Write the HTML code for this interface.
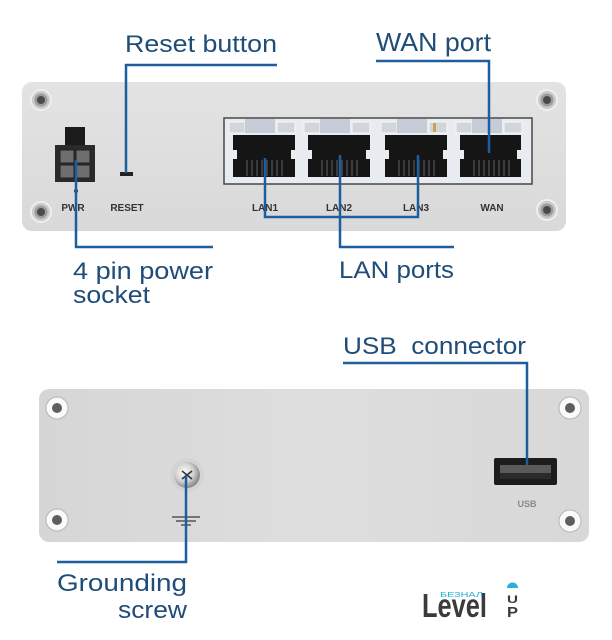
<!DOCTYPE html>
<html>
<head>
<meta charset="utf-8">
<style>
  html,body{margin:0;padding:0;background:#ffffff;}
  svg{display:block;}
  .lbl{font-family:"Liberation Sans",Arial,sans-serif;font-size:24px;fill:#1f4d78;}
  .pl{font-family:"Liberation Sans",Arial,sans-serif;font-size:10px;font-weight:bold;fill:#333;}
  .ln{fill:none;stroke:#1d5e9f;stroke-width:2.5;}
</style>
</head>
<body>
<svg width="612" height="640" viewBox="0 0 612 640" xmlns="http://www.w3.org/2000/svg">
  <defs>
    <linearGradient id="pg" x1="0" y1="0" x2="0" y2="1">
      <stop offset="0" stop-color="#e3e3e3"/>
      <stop offset="1" stop-color="#d9d9d9"/>
    </linearGradient>
    <linearGradient id="pg2" x1="0" y1="0" x2="1" y2="0">
      <stop offset="0" stop-color="#d6d6d6"/>
      <stop offset="0.5" stop-color="#dedede"/>
      <stop offset="1" stop-color="#d8d8d8"/>
    </linearGradient>
    <radialGradient id="gs" cx="0.4" cy="0.4" r="0.6">
      <stop offset="0" stop-color="#ffffff"/>
      <stop offset="0.6" stop-color="#d0d0d0"/>
      <stop offset="1" stop-color="#8a8a8a"/>
    </radialGradient>
  </defs>

  <!-- Top panel -->
  <rect x="22" y="82" width="544" height="149" rx="10" fill="url(#pg)"/>
  <g>
    <circle cx="41" cy="100" r="10" fill="#c9c9c9" stroke="#efefef" stroke-width="2"/>
    <circle cx="41" cy="100" r="6.5" fill="#9c9c9c"/>
    <circle cx="41" cy="100" r="4" fill="#4a4a4a"/>
    <circle cx="41" cy="212" r="10" fill="#c9c9c9" stroke="#efefef" stroke-width="2"/>
    <circle cx="41" cy="212" r="6.5" fill="#9c9c9c"/>
    <circle cx="41" cy="212" r="4" fill="#4a4a4a"/>
    <circle cx="547" cy="100" r="10" fill="#c9c9c9" stroke="#efefef" stroke-width="2"/>
    <circle cx="547" cy="100" r="6.5" fill="#9c9c9c"/>
    <circle cx="547" cy="100" r="4" fill="#4a4a4a"/>
    <circle cx="547" cy="210" r="10" fill="#c9c9c9" stroke="#efefef" stroke-width="2"/>
    <circle cx="547" cy="210" r="6.5" fill="#9c9c9c"/>
    <circle cx="547" cy="210" r="4" fill="#4a4a4a"/>
  </g>

  <!-- power socket -->
  <rect x="65" y="127" width="20" height="19" fill="#1b1b1b"/>
  <rect x="55" y="145" width="40" height="37" fill="#2a2a2a"/>
  <rect x="60" y="150" width="14" height="13" fill="#6e6e6e" stroke="#222" stroke-width="1"/>
  <rect x="76" y="150" width="14" height="13" fill="#6e6e6e" stroke="#222" stroke-width="1"/>
  <rect x="60" y="165" width="14" height="13" fill="#6e6e6e" stroke="#222" stroke-width="1"/>
  <rect x="76" y="165" width="14" height="13" fill="#6e6e6e" stroke="#222" stroke-width="1"/>
  <circle cx="76" cy="191" r="2" fill="#333"/>

  <!-- reset button -->
  <rect x="120" y="172" width="13" height="4" fill="#222"/>

  <!-- port block -->
  <rect x="224" y="118" width="308" height="66" fill="#e8ebef" stroke="#474747" stroke-width="1.5"/>
  <g>
    <g>
      <rect x="229" y="122" width="16" height="11" fill="#d2d5da" stroke="#f6f6f6" stroke-width="1"/>
      <rect x="245" y="119" width="30" height="14" fill="#c7ccd8"/>
      <rect x="277" y="122" width="18" height="11" fill="#d2d5da" stroke="#f6f6f6" stroke-width="1"/>
      <rect x="233" y="135" width="62" height="42" fill="#151515"/>
      <rect x="233" y="150" width="4" height="9" fill="#e8ebef"/>
      <rect x="291" y="150" width="4" height="9" fill="#e8ebef"/>
      <path d="M247 160V176M252 160V176M257 160V176M262 160V176M267 160V176M272 160V176M277 160V176M282 160V176" stroke="#555" stroke-width="1.2"/>
    </g>
    <g>
      <rect x="304" y="122" width="16" height="11" fill="#d2d5da" stroke="#f6f6f6" stroke-width="1"/>
      <rect x="320" y="119" width="30" height="14" fill="#c7ccd8"/>
      <rect x="352" y="122" width="18" height="11" fill="#d2d5da" stroke="#f6f6f6" stroke-width="1"/>
      <rect x="308" y="135" width="62" height="42" fill="#151515"/>
      <rect x="308" y="150" width="4" height="9" fill="#e8ebef"/>
      <rect x="366" y="150" width="4" height="9" fill="#e8ebef"/>
      <path d="M322 160V176M327 160V176M332 160V176M337 160V176M342 160V176M347 160V176M352 160V176M357 160V176" stroke="#555" stroke-width="1.2"/>
    </g>
    <g>
      <rect x="381" y="122" width="16" height="11" fill="#d2d5da" stroke="#f6f6f6" stroke-width="1"/>
      <rect x="397" y="119" width="30" height="14" fill="#c7ccd8"/>
      <rect x="429" y="122" width="18" height="11" fill="#d2d5da" stroke="#f6f6f6" stroke-width="1"/>
      <rect x="433" y="123" width="3" height="9" fill="#c9a54a"/>
      <rect x="385" y="135" width="62" height="42" fill="#151515"/>
      <rect x="385" y="150" width="4" height="9" fill="#e8ebef"/>
      <rect x="443" y="150" width="4" height="9" fill="#e8ebef"/>
      <path d="M399 160V176M404 160V176M409 160V176M414 160V176M419 160V176M424 160V176M429 160V176M434 160V176" stroke="#555" stroke-width="1.2"/>
    </g>
    <g>
      <rect x="456" y="122" width="16" height="11" fill="#d2d5da" stroke="#f6f6f6" stroke-width="1"/>
      <rect x="472" y="119" width="30" height="14" fill="#c7ccd8"/>
      <rect x="504" y="122" width="18" height="11" fill="#d2d5da" stroke="#f6f6f6" stroke-width="1"/>
      <rect x="460" y="135" width="61" height="42" fill="#151515"/>
      <rect x="460" y="150" width="4" height="9" fill="#e8ebef"/>
      <rect x="517" y="150" width="4" height="9" fill="#e8ebef"/>
      <path d="M474 160V176M479 160V176M484 160V176M489 160V176M494 160V176M499 160V176M504 160V176M509 160V176" stroke="#555" stroke-width="1.2"/>
    </g>
  </g>

  <!-- panel labels -->
  <text class="pl" x="73" y="211" text-anchor="middle">PWR</text>
  <text class="pl" x="127" y="211" text-anchor="middle">RESET</text>
  <text class="pl" x="265" y="211" text-anchor="middle">LAN1</text>
  <text class="pl" x="339" y="211" text-anchor="middle">LAN2</text>
  <text class="pl" x="416" y="211" text-anchor="middle">LAN3</text>
  <text class="pl" x="492" y="211" text-anchor="middle">WAN</text>

  <!-- Bottom panel -->
  <rect x="39" y="389" width="550" height="153" rx="10" fill="url(#pg2)"/>
  <g>
    <circle cx="57" cy="408" r="11" fill="#fafafa" stroke="#b5b5b5" stroke-width="1"/>
    <circle cx="57" cy="408" r="5" fill="#5e5e5e"/>
    <circle cx="57" cy="520" r="11" fill="#fafafa" stroke="#b5b5b5" stroke-width="1"/>
    <circle cx="57" cy="520" r="5" fill="#5e5e5e"/>
    <circle cx="570" cy="408" r="11" fill="#fafafa" stroke="#b5b5b5" stroke-width="1"/>
    <circle cx="570" cy="408" r="5" fill="#5e5e5e"/>
    <circle cx="570" cy="521" r="11" fill="#fafafa" stroke="#b5b5b5" stroke-width="1"/>
    <circle cx="570" cy="521" r="5" fill="#5e5e5e"/>
  </g>

  <!-- grounding screw -->
  <circle cx="187" cy="475" r="17" fill="#cfcfcf" opacity="0.6"/>
  <circle cx="187" cy="475" r="13" fill="url(#gs)"/>
  <path d="M182 471L192 479M192 471L182 479" stroke="#333" stroke-width="1.6"/>
  <path d="M172 517H200M176 521H196M181 525H191" stroke="#555" stroke-width="1.5"/>

  <!-- USB -->
  <rect x="494" y="458" width="63" height="27" rx="2" fill="#1c1c1c"/>
  <rect x="500" y="465" width="51" height="8" fill="#5a5a5a"/>
  <rect x="500" y="473" width="51" height="6" fill="#2a2a2a"/>
  <text class="pl" x="527" y="507" text-anchor="middle" style="fill:#8a8a8a;font-size:9px;">USB</text>

  <!-- connector lines -->
  <path class="ln" d="M126 173V65H277"/>
  <path class="ln" d="M376 61H489V153"/>
  <path class="ln" d="M76 160V247H213"/>
  <path class="ln" d="M265 158V217H418V155"/>
  <path class="ln" d="M340 155V247H454"/>
  <path class="ln" d="M343 363H527V465"/>
  <path class="ln" d="M186 475V562H57"/>

  <!-- labels -->
  <text class="lbl" x="125" y="52" textLength="152" lengthAdjust="spacingAndGlyphs">Reset button</text>
  <text class="lbl" x="376" y="51" textLength="115" lengthAdjust="spacingAndGlyphs" style="font-size:26px">WAN port</text>
  <text class="lbl" x="73" y="279" textLength="140" lengthAdjust="spacingAndGlyphs">4 pin power</text>
  <text class="lbl" x="73" y="303" textLength="77" lengthAdjust="spacingAndGlyphs">socket</text>
  <text class="lbl" x="339" y="278" textLength="115" lengthAdjust="spacingAndGlyphs">LAN ports</text>
  <text class="lbl" x="343" y="354" textLength="183" lengthAdjust="spacingAndGlyphs">USB&#160; connector</text>
  <text class="lbl" x="57" y="591" textLength="130" lengthAdjust="spacingAndGlyphs">Grounding</text>
  <text class="lbl" x="118" y="618" textLength="69" lengthAdjust="spacingAndGlyphs">screw</text>

  <!-- logo -->
  <g transform="translate(422,617) scale(1,1.15)">
    <text x="0" y="0" textLength="65" lengthAdjust="spacingAndGlyphs" style="font-family:'Liberation Sans',Arial,sans-serif;font-weight:bold;font-size:29px;fill:#3b3b3b;">Level</text>
  </g>
  <text x="440" y="597" textLength="43" lengthAdjust="spacingAndGlyphs" style="font-family:'Liberation Sans','DejaVu Sans',sans-serif;font-size:7px;fill:#2aafd6;">БЕЗНАЛ</text>
  <path d="M507 588A5.5 5.5 0 0 1 518 588Z" fill="#2aafd6"/>
  <text x="507" y="603" textLength="11" lengthAdjust="spacingAndGlyphs" style="font-family:'Liberation Sans',Arial,sans-serif;font-weight:bold;font-size:11px;fill:#3b3b3b;">U</text>
  <text x="507" y="617" textLength="11" lengthAdjust="spacingAndGlyphs" style="font-family:'Liberation Sans',Arial,sans-serif;font-weight:bold;font-size:15px;fill:#3b3b3b;">P</text>
</svg>
</body>
</html>
